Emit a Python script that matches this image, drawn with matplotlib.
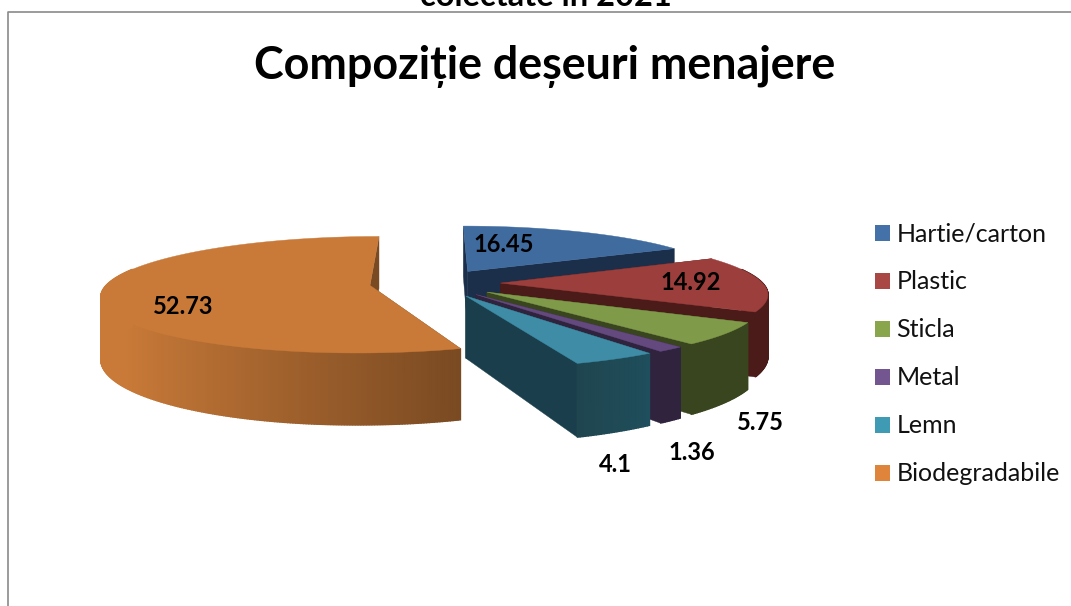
import numpy as np
from matplotlib import pyplot as plt
from matplotlib.patches import Patch

categories = ["Hartie/carton","Plastic","Sticla","Metal","Lemn","Biodegradabile"]
values = [16.45,14.92,5.75,1.36,4.1,52.73]

topColors = ["#3F6B9F","#9C3E3C","#7F9A48","#64497F","#3E8CA6","#C97A38"]
legendColors = ["#4472A8","#A94744","#8AA64D","#735590","#3F9AB3","#DE853B"]
wallColors = ["#1C2F4A","#4A1B18","#39451F","#2F233E","#1A3E4B","#7A4A22"]
outerFrom = ["#1C2F4A","#4A1B18","#39451F","#2F233E","#1F4E5C","#7A4A22"] #colour at start of the arc
outerTo = ["#1C2F4A","#4A1B18","#39451F","#2F233E","#1F4650","#C97A38"] #colour at end of the arc
labelPos = [(504,245),(691,283),(760,423),(692,453),(615,465),(183,307)]

#projection settings, all in pixels of the 1071x606 picture
cx,cy = 435,283 #centre of the pie
radius = 262
tilt = 56 #squash of the disc
explode = 0.25
depth = 60
persp = 0.16 #how much bigger the front gets

def hex2rgb(c):
  return np.array([int(c[i:i+2],16)/255 for i in (1,3,5)])

#pie coords (sideways, forward) -> screen
def project(x,f,down=0):
  s = 1/(1-persp*f)
  return cx+s*radius*x, cy+s*(tilt*f+down)

plt.rcParams['font.family'] = ['Lato','DejaVu Sans']

fig = plt.figure(figsize=(10.71,6.06),dpi=100)
ax = fig.add_axes([0,0,1,1])
ax.set_xlim(0,1071)
ax.set_ylim(606,0)
ax.axis('off')

#chart border (only top and left are in the crop)
ax.plot([7.5,7.5,1071],[606,12,12],color="#8A8A8A",lw=1.2)

fracs = np.array(values)/sum(values)*360
ends = np.cumsum(fracs)
starts = ends-fracs

#back slices first, biodegradable does not overlap the others
for i in range(len(values)):
  a0,a1 = np.radians(starts[i]),np.radians(ends[i])
  mid = (a0+a1)/2
  ox,of = explode*np.sin(mid),-explode*np.cos(mid)
  arc = np.linspace(a0,a1,max(int(np.degrees(a1-a0)*2),8))
  xs,fs = ox+np.sin(arc),of-np.cos(arc)

  apexTop = project(ox,of)
  apexBot = project(ox,of,depth)
  topPts = [project(x,f) for x,f in zip(xs,fs)]
  botPts = [project(x,f,depth) for x,f in zip(xs,fs)]

  #radial walls
  for p,q in ((topPts[0],botPts[0]),(topPts[-1],botPts[-1])):
    ax.fill([apexTop[0],p[0],q[0],apexBot[0]],[apexTop[1],p[1],q[1],apexBot[1]],
            color=wallColors[i],lw=0.3,zorder=2+i*3)

  #outer wall, in strips for the shading
  c0,c1 = hex2rgb(outerFrom[i]),hex2rgb(outerTo[i])
  for j in range(len(arc)-1):
    t = j/(len(arc)-2)
    if i==5:
      #biodegradable is shaded across the picture and is at full colour by the left side
      t = min((np.sin(a0)-np.sin(arc[j]))/(np.sin(a0)+0.82),1)
    col = c0+(c1-c0)*t
    if fs[j]>-0.25 or fs[j+1]>-0.25:
      ax.fill([topPts[j][0],topPts[j+1][0],botPts[j+1][0],botPts[j][0]],
              [topPts[j][1],topPts[j+1][1],botPts[j+1][1],botPts[j][1]],
              color=col,lw=1.0,zorder=3+i*3)

  #top face
  ax.fill([apexTop[0]]+[p[0] for p in topPts],[apexTop[1]]+[p[1] for p in topPts],
          color=topColors[i],lw=0.3,zorder=4+i*3)

for i,v in enumerate(values):
  ax.text(labelPos[i][0],labelPos[i][1],str(v),ha='center',va='center',
          fontsize=17,fontweight='bold',color='black',zorder=50)

ax.text(545,79,"Compoziție deșeuri menajere",ha='center',va='baseline',fontsize=32.3,fontweight='bold',color='black')
ax.text(546,6,"colectate în 2021",ha='center',va='baseline',fontsize=23.5,fontweight='bold',color='black')

handles = [Patch(facecolor=c,edgecolor='none') for c in legendColors]
ax.legend(handles,categories,loc='upper left',bbox_to_anchor=(857/1071,1-205/606),frameon=False,
          fontsize=18,labelspacing=1.0,handlelength=0.6,handleheight=0.6,handletextpad=0.28,
          borderpad=0.2,labelcolor='#111111')

fig.savefig("out.png",dpi=100)
